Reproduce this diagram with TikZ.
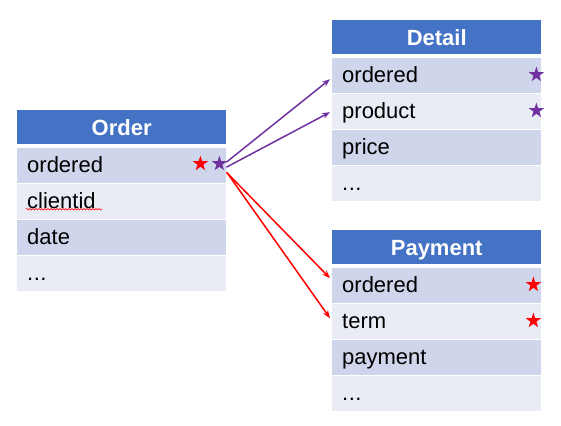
\documentclass[tikz,border=0pt]{standalone}
\usepackage{fontspec}
\setmainfont{Liberation Sans}
\usetikzlibrary{arrows.meta}
\usetikzlibrary{shapes.geometric}
\usetikzlibrary{decorations.pathmorphing}
\definecolor{headblue}{HTML}{4472C4}
\definecolor{rowdark}{HTML}{CFD5EA}
\definecolor{rowlight}{HTML}{E9EBF5}
\definecolor{keyred}{HTML}{FF0000}
\definecolor{keypurple}{HTML}{7030A0}
\newcommand{\rowetc}{.\kern0.5pt.\kern0.5pt.}

\begin{document}
\begin{tikzpicture}[x=1pt,y=-1pt,
  head/.style={fill=headblue, text=white, font=\fontsize{22}{25}\selectfont\bfseries,
    minimum width=209pt, minimum height=34pt, inner sep=0pt,
    text height=17pt, text depth=0pt, anchor=north west},
  darkrow/.style={fill=rowdark, font=\fontsize{22}{25}\selectfont,
    text width=189pt, inner xsep=10pt, inner ysep=0pt, minimum height=35pt,
    text height=17pt, text depth=3pt, align=left, anchor=north west},
  lightrow/.style={darkrow, fill=rowlight},
  keystar/.style={star, star points=5, star point ratio=2.6, minimum size=16pt, inner sep=0pt},
  link/.style={line width=1.5pt, -{Stealth[length=8pt,width=6pt]}}]
\useasboundingbox (0,0) rectangle (561,425);

% Three tables: header plus four rows each
\node[head] (o0) at (17,110) {Order};
\foreach \t/\c [count=\i] in {ordered/darkrow, clientid/lightrow, date/darkrow, \rowetc/lightrow} {
    \node[\c] (o\i) at (17,{112+36*\i}) {\t};
}
\node[head] (d0) at (332,20) {Detail};
\foreach \t/\c [count=\i] in {ordered/darkrow, product/lightrow, price/darkrow, \rowetc/lightrow} {
    \node[\c] (d\i) at (332,{22+36*\i}) {\t};
}
\node[head] (p0) at (332,230) {Payment};
\foreach \t/\c [count=\i] in {ordered/darkrow, term/lightrow, payment/darkrow, \rowetc/lightrow} {
    \node[\c] (p\i) at (332,{232+36*\i}) {\t};
}

% spell-check mark under clientid
\draw[keyred, line width=0.6pt, decorate, decoration={snake, amplitude=0.7pt, segment length=3pt}]
    ([xshift=9pt,yshift=-7.5pt]o2.west) -- ++(76,0);

% Key stars
\node[keystar, fill=keyred] (os1) at ([xshift=-26pt,yshift=2pt]o1.east) {};
\node[keystar, fill=keypurple] (os2) at ([xshift=-7pt,yshift=2pt]o1.east) {};
\node[keystar, fill=keypurple] (ds1) at ([xshift=-5pt,yshift=1pt]d1.east) {};
\node[keystar, fill=keypurple] (ds2) at ([xshift=-5pt,yshift=1pt]d2.east) {};
\node[keystar, fill=keyred] (ps1) at ([xshift=-8pt,yshift=1pt]p1.east) {};
\node[keystar, fill=keyred] (ps2) at ([xshift=-8pt,yshift=1pt]p2.east) {};

% Links from Order.ordered
\draw[link, keypurple] ([yshift=3.5pt]o1.east) -- ([xshift=-2pt,yshift=-3.5pt]d1.west);
\draw[link, keypurple] ([yshift=-1.5pt]o1.east) -- ([xshift=-2pt,yshift=-0.5pt]d2.west);
\draw[link, keyred] ([yshift=-6.5pt]o1.east) -- ([xshift=-2pt,yshift=7.5pt]p1.west);
\draw[link, keyred] ([xshift=1pt,yshift=-7.5pt]o1.east) -- ([xshift=-2pt,yshift=3.5pt]p2.west);
\end{tikzpicture}
\end{document}
